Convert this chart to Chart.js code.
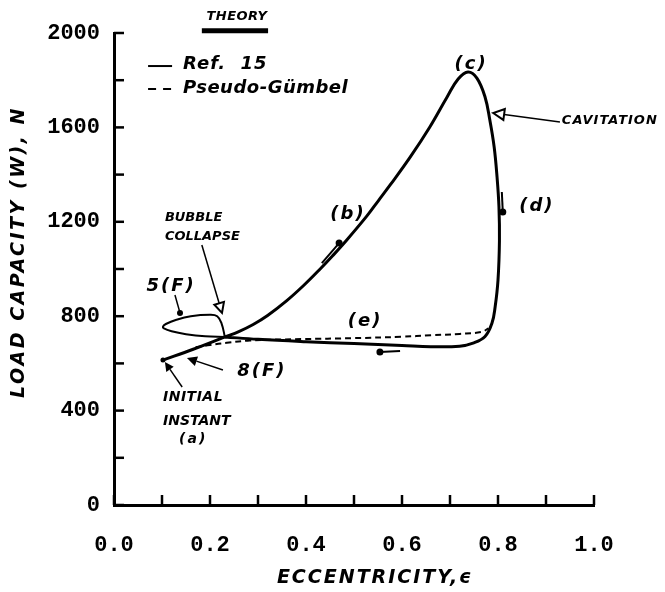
<!DOCTYPE html>
<html>
<head>
<meta charset="utf-8">
<title>Load capacity vs eccentricity</title>
<script src="https://cdn.jsdelivr.net/npm/chart.js@4.4.1/dist/chart.umd.min.js"></script>
<style>
    html, body { margin: 0; padding: 0; background: #fff; }
    canvas { display: block; }
</style>
</head>
<body>
<canvas id="grafica" width="665" height="592"></canvas>
<script>
'use strict'

//Datos (excentricidad, carga en N)

//Curva Ref. 15: instante inicial -> (b) -> (c) -> (d) -> (e)
const ref15_x = [0.102, 0.165, 0.231, 0.260, 0.290, 0.320, 0.360, 0.395, 0.429, 0.455, 0.485, 0.527,
                 0.551, 0.575, 0.617, 0.658, 0.694, 0.717, 0.7375, 0.756, 0.773, 0.783, 0.792, 0.798,
                 0.802, 0.803, 0.800, 0.794, 0.7875, 0.773, 0.748, 0.720, 0.660, 0.600, 0.500, 0.400,
                 0.300, 0.231];
const ref15_y = [614, 660, 712, 735, 765, 803, 866, 930, 999, 1055, 1123, 1225,
                 1290, 1355, 1474, 1602, 1729, 1805, 1835, 1809, 1729, 1631, 1517, 1390,
                 1263, 1120, 953, 839, 771, 714, 686, 673, 671, 676, 684, 692,
                 702, 712];

//Lazo 5(F) cerca del colapso de la burbuja
const lazo_x = [0.231, 0.190, 0.150, 0.120, 0.104, 0.102, 0.108, 0.130, 0.160, 0.200, 0.215, 0.224, 0.231];
const lazo_y = [712, 715, 724, 736, 748, 756, 767, 785, 800, 806, 800, 770, 712];

//Curva Pseudo-Gümbel (punteada)
const gumbel_x = [0.170, 0.200, 0.235, 0.283, 0.390, 0.500, 0.600, 0.660, 0.720, 0.765, 0.780];
const gumbel_y = [668, 678, 687, 697, 703, 707, 713, 719, 725, 733, 748];

//Ejes
const ticks_x = [0.0, 0.2, 0.4, 0.6, 0.8, 1.0];
const ticks_y = [0, 400, 800, 1200, 1600, 2000];

const negro = '#000';
const fuente_notas = '"DejaVu Sans", sans-serif';

function puntos(xs, ys) {
    return xs.map((v, i) => ({x: v, y: ys[i]}));
}

//Plugin para marcas hacia adentro, leyenda, títulos y anotaciones
const notasPlugin = {
    id: 'notas',
    afterDraw(chart) {
        const ctx = chart.ctx;
        const sx = chart.scales.x;
        const sy = chart.scales.y;
        const area = chart.chartArea;
        const px = v => sx.getPixelForValue(v);
        const py = v => sy.getPixelForValue(v);

        ctx.save();
        ctx.strokeStyle = negro;
        ctx.fillStyle = negro;
        ctx.lineCap = 'butt';

        //Marcas de los ejes hacia adentro
        ctx.lineWidth = 2.5;
        sx.ticks.forEach(t => {
            const p = px(t.value);
            linea(p, area.bottom, p, area.bottom - 10);
        });
        sy.ticks.forEach(t => {
            const p = py(t.value);
            linea(area.left, p, area.left + 10, p);
        });

        function linea(x1, y1, x2, y2) {
            ctx.beginPath();
            ctx.moveTo(x1, y1);
            ctx.lineTo(x2, y2);
            ctx.stroke();
        }

        function texto(str, xv, yv, size, align, espacio) {
            ctx.font = 'italic bold ' + size + 'px ' + fuente_notas;
            ctx.letterSpacing = (espacio || 0) + 'px';
            ctx.textAlign = align;
            ctx.textBaseline = 'middle';
            ctx.fillText(str, px(xv), py(yv));
        }

        function punto(xv, yv, r) {
            ctx.beginPath();
            ctx.arc(px(xv), py(yv), r, 0, Math.PI * 2);
            ctx.fill();
        }

        function flecha(x1v, y1v, x2v, y2v, tam, llena) {
            const x1 = px(x1v), y1 = py(y1v), x2 = px(x2v), y2 = py(y2v);
            const ang = Math.atan2(y2 - y1, x2 - x1);
            ctx.lineWidth = 1.5;
            const bx = x2 - tam * Math.cos(ang), by = y2 - tam * Math.sin(ang);
            linea(x1, y1, bx, by);
            ctx.beginPath();
            ctx.moveTo(x2, y2);
            ctx.lineTo(bx + tam * 0.5 * Math.sin(ang), by - tam * 0.5 * Math.cos(ang));
            ctx.lineTo(bx - tam * 0.5 * Math.sin(ang), by + tam * 0.5 * Math.cos(ang));
            ctx.closePath();
            if (llena) {
                ctx.fill();
            } else {
                ctx.lineWidth = 2;
                ctx.stroke();
            }
        }

        function flechaPunto(x1v, y1v, x2v, y2v) {
            ctx.lineWidth = 2;
            linea(px(x1v), py(y1v), px(x2v), py(y2v));
            punto(x2v, y2v, 3.5);
        }

        //Leyenda
        texto('THEORY', 0.256, 2068, 13, 'center', 0.5);
        ctx.lineWidth = 5;
        linea(px(0.183), py(2010), px(0.321), py(2010));
        ctx.lineWidth = 2;
        linea(px(0.071), py(1860), px(0.121), py(1860));
        ctx.setLineDash([8, 7]);
        linea(px(0.071), py(1763), px(0.124), py(1763));
        ctx.setLineDash([]);
        texto('Ref.  15', 0.144, 1866, 18, 'left', 1);
        texto('Pseudo-Gümbel', 0.144, 1767, 18, 'left', 0.5);

        //Etiquetas de la curva
        texto('(c)', 0.744, 1869, 18, 'center', 2);
        texto('(b)', 0.4875, 1233, 18, 'center', 2);
        texto('(d)', 0.881, 1267, 18, 'center', 2);
        texto('(e)', 0.523, 780, 18, 'center', 2);
        flechaPunto(0.433, 1025, 0.469, 1110);
        flechaPunto(0.808, 1326, 0.810, 1241);
        flechaPunto(0.596, 653, 0.554, 648);

        texto('CAVITATION', 0.933, 1627, 13, 'left', 1);
        flecha(0.929, 1623, 0.790, 1661, 11, false);

        texto('BUBBLE', 0.106, 1216, 13, 'left', 0);
        texto('COLLAPSE', 0.106, 1136, 13, 'left', 0);
        flecha(0.183, 1102, 0.225, 814, 10, false);

        texto('5(F)', 0.119, 928, 18, 'center', 2);
        ctx.lineWidth = 1.5;
        linea(px(0.127), py(890), px(0.1375), py(814));
        punto(0.1375, 814, 3);

        texto('8(F)', 0.308, 568, 18, 'center', 2);
        flecha(0.227, 572, 0.152, 623, 10, true);

        texto('INITIAL', 0.102, 458, 14, 'left', 0.5);
        texto('INSTANT', 0.102, 356, 14, 'left', 0);
        texto('(a)', 0.165, 280, 14, 'center', 2);
        flecha(0.142, 500, 0.106, 606, 9, true);
        punto(0.102, 614, 2.5);

        //Títulos de los ejes
        ctx.font = 'italic bold 19px ' + fuente_notas;
        ctx.letterSpacing = '2px';
        ctx.textAlign = 'center';
        ctx.textBaseline = 'middle';
        ctx.fillText('ECCENTRICITY,\u03F5', px(0.544), area.bottom + 73);
        ctx.save();
        ctx.translate(area.left - 95, py(1072));
        ctx.rotate(-Math.PI / 2);
        ctx.letterSpacing = '2.5px';
        ctx.fillText('LOAD CAPACITY (W), N', 0, 0);
        ctx.restore();

        ctx.restore();
    }
};

const ctx_grafica = document.getElementById('grafica').getContext('2d');

const grafica = new Chart(ctx_grafica, {
    type: 'scatter',
    data: {
        datasets: [{
            label: 'Ref. 15',
            data: puntos(ref15_x, ref15_y),
            showLine: true,
            borderColor: negro,
            borderWidth: 3,
            pointRadius: 0,
            tension: 0.4
        }, {
            label: 'Ref. 15 5(F)',
            data: puntos(lazo_x, lazo_y),
            showLine: true,
            borderColor: negro,
            borderWidth: 2,
            pointRadius: 0,
            tension: 0.4
        }, {
            label: 'Pseudo-Gümbel',
            data: puntos(gumbel_x, gumbel_y),
            showLine: true,
            borderColor: negro,
            borderWidth: 2,
            borderDash: [6, 4],
            pointRadius: 0,
            tension: 0.4
        }]
    },
    options: {
        animation: false,
        responsive: false,
        devicePixelRatio: 1,
        layout: {
            padding: {left: 0, top: 33, right: 71, bottom: 0}
        },
        plugins: {
            legend: {display: false},
            tooltip: {enabled: false}
        },
        scales: {
            x: {
                type: 'linear',
                min: 0,
                max: 1,
                afterFit: scale => { scale.height = 87; },
                grid: {display: false, drawTicks: false},
                border: {display: true, color: negro, width: 3},
                ticks: {
                    stepSize: 0.1,
                    padding: 27,
                    color: negro,
                    font: {family: '"Liberation Mono", monospace', size: 22, weight: 'bold'},
                    callback: value => {
                        const etiqueta = ticks_x.find(t => Math.abs(t - value) < 1e-6);
                        return etiqueta === undefined ? '' : etiqueta.toFixed(1);
                    }
                }
            },
            y: {
                type: 'linear',
                min: 0,
                max: 2000,
                afterFit: scale => { scale.width = 114; },
                grid: {display: false, drawTicks: false},
                border: {display: true, color: negro, width: 3},
                ticks: {
                    stepSize: 200,
                    padding: 14,
                    color: negro,
                    font: {family: '"Liberation Mono", monospace', size: 22, weight: 'bold'},
                    callback: value => ticks_y.includes(value) ? String(value) : ''
                }
            }
        }
    },
    plugins: [notasPlugin]
});
</script>
</body>
</html>
